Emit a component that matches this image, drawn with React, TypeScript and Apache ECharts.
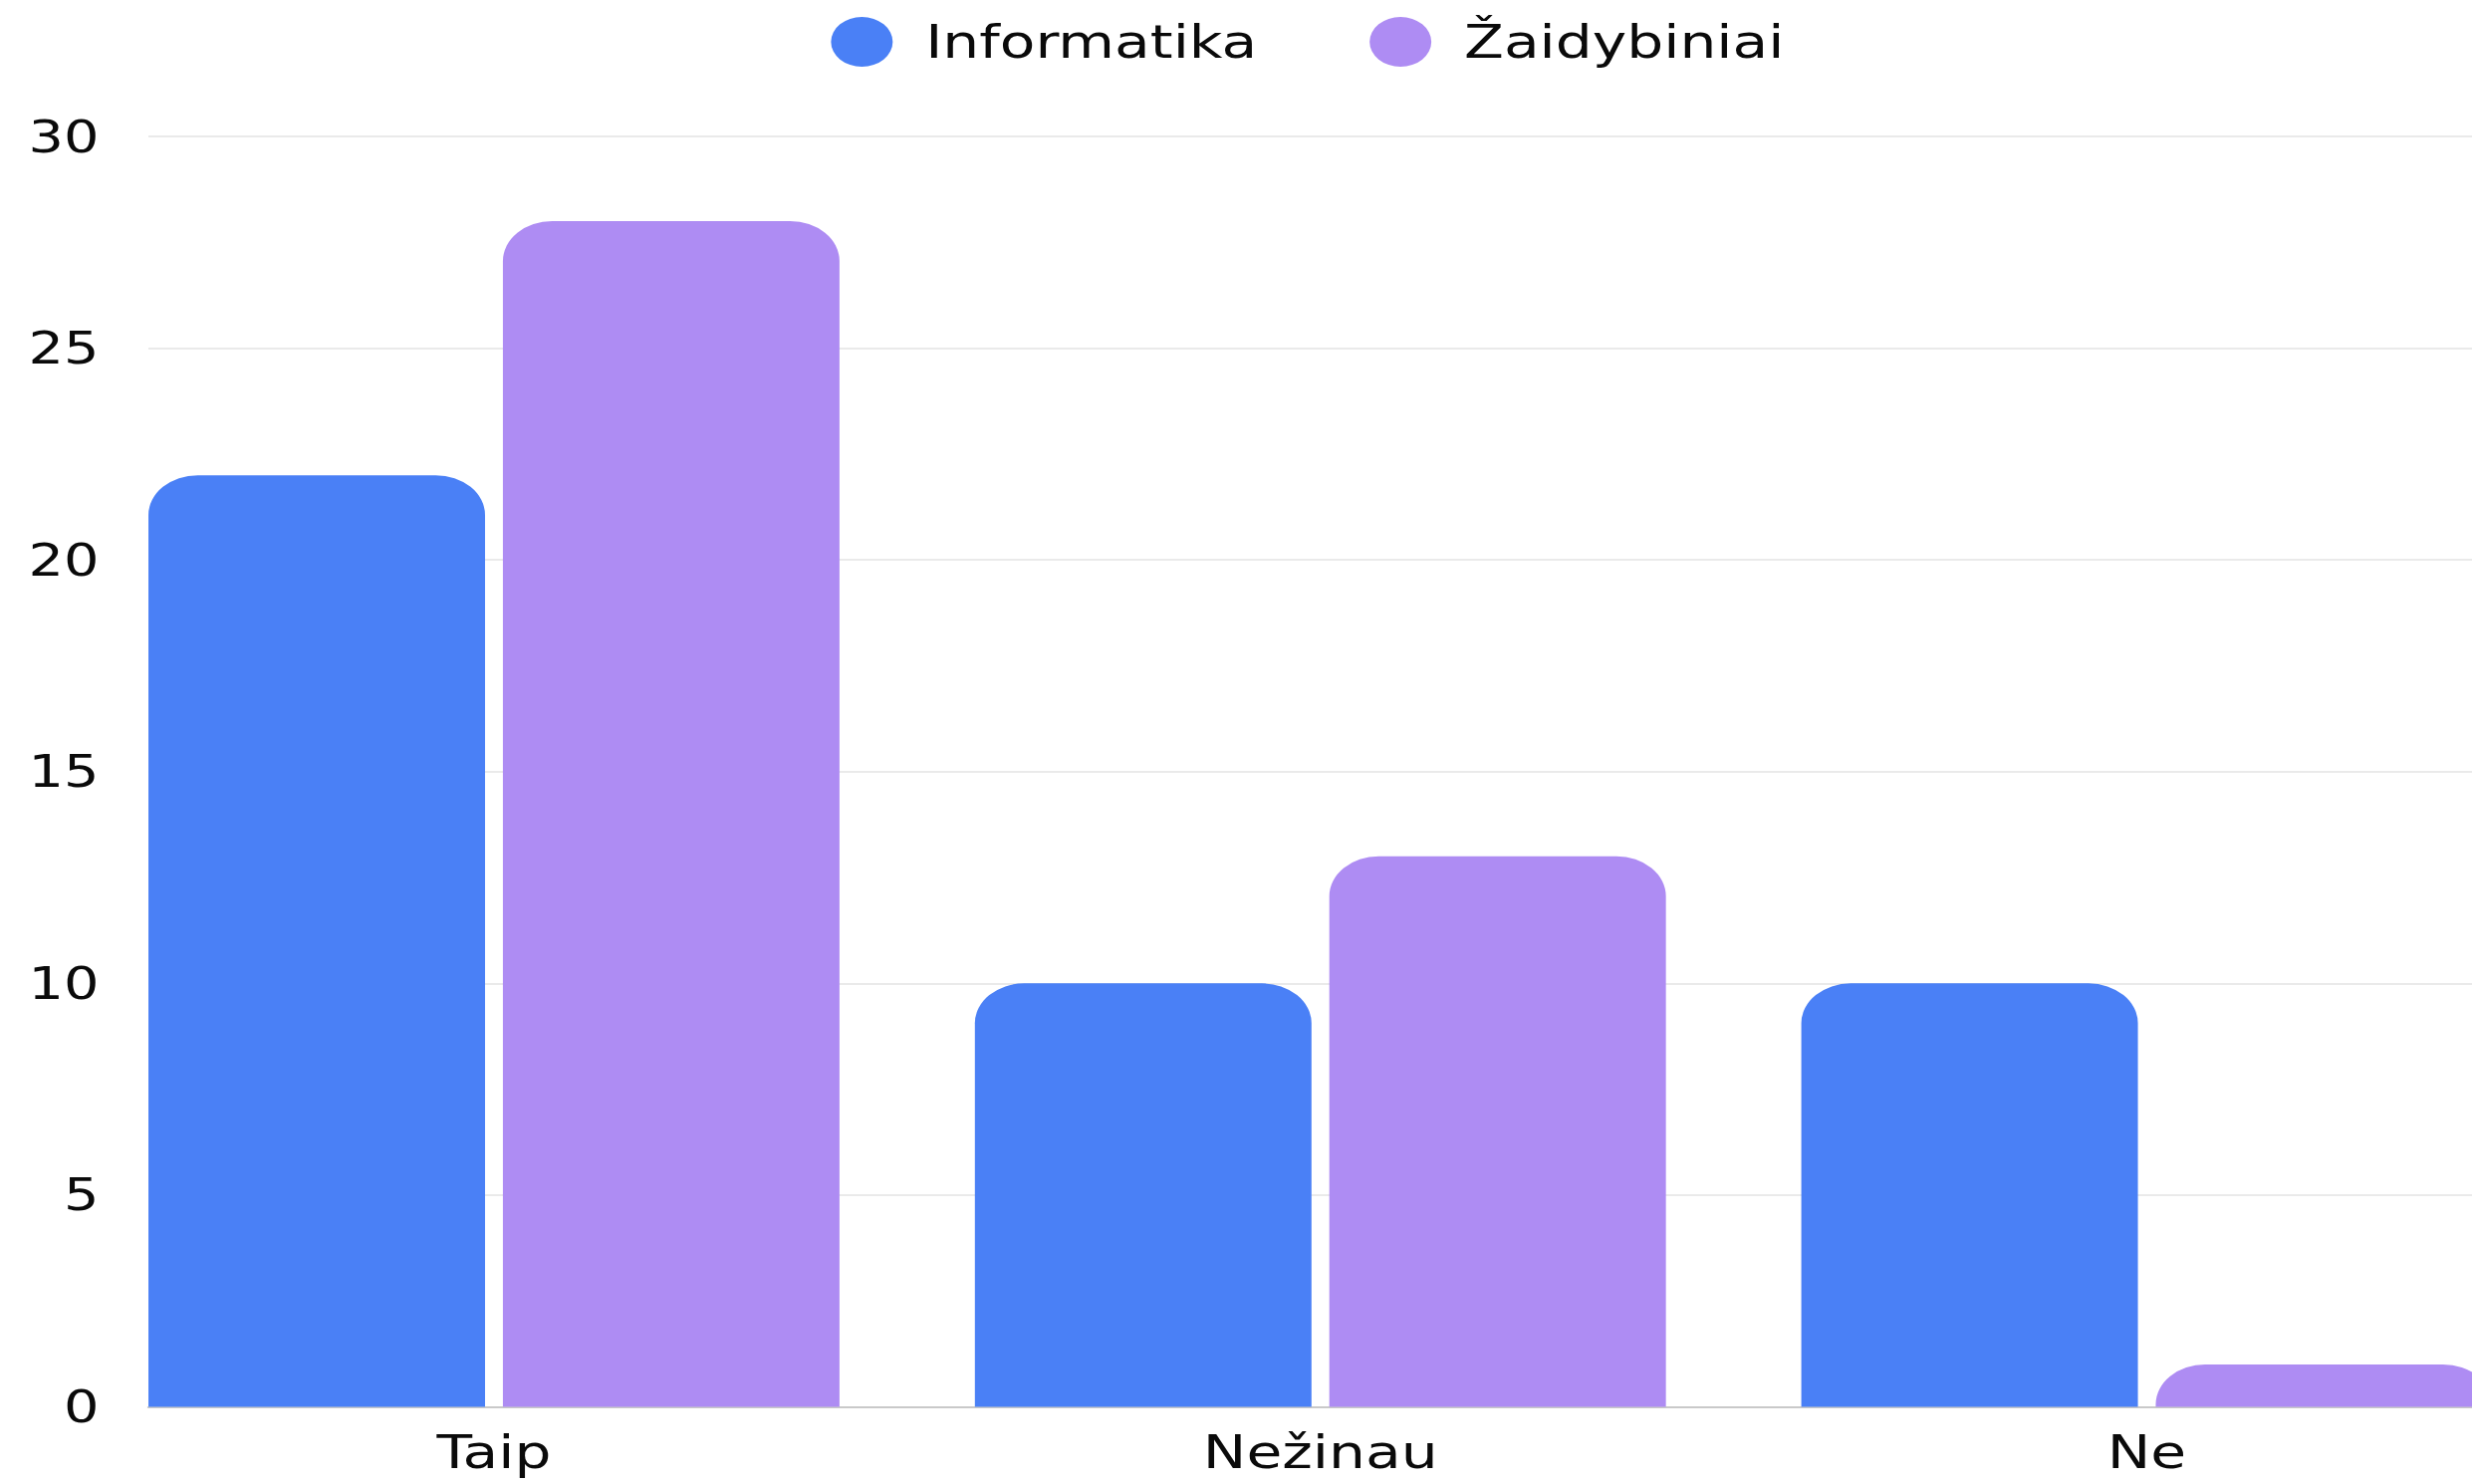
import React, { useEffect, useRef } from "react";
import * as echarts from "echarts";

const categories = ["Taip", "Nežinau", "Ne"];
const seriesNames = ["Informatika", "Žaidybiniai"];
const informatika = [22, 10, 10];
const zaidybiniai = [28, 13, 1];
const yMin = 0;
const yMax = 30;
const yInterval = 5;

const STRETCH = 1.24;
const VISIBLE_W = Math.round(2482 / STRETCH);
const EXTRA = 120;
const CHART_W = VISIBLE_W + EXTRA;
const CHART_H = 1490;
const FONT = "'DejaVu Sans', 'Noto Sans', sans-serif";
const ELLIPSE = "path://M0,1a1,1 0 1,0 2,0a1,1 0 1,0 -2,0Z";

export default function App() {
  const ref = useRef<HTMLDivElement>(null);
  useEffect(() => {
    if (!ref.current) return;
    const chart = echarts.init(ref.current, null, { renderer: "svg" });
    const top = 137;
    const bottom = 77.5;
    const plotLeft = 65.4;
    const plotRight = plotLeft + 3 * 669.3;
    chart.setOption({
      animation: false,
      backgroundColor: "#ffffff",
      legend: {
        left: 673,
        top: 17,
        padding: 0,
        itemWidth: 53,
        itemHeight: 50,
        itemGap: 91,
        icon: ELLIPSE,
        textStyle: { fontFamily: FONT, fontSize: 47, color: "#0a0a0a", padding: [0, 0, 0, 20] },
        data: seriesNames,
      },
      grid: [
        { left: 120.2, right: EXTRA, top, bottom, containLabel: false },
        { left: plotLeft, right: CHART_W - plotRight, top, bottom, containLabel: false },
      ],
      xAxis: [
        {
          gridIndex: 0,
          type: "value",
          min: 0,
          max: 1,
          axisLine: { show: true, lineStyle: { color: "#c9c9c9", width: 2 } },
          axisTick: { show: false },
          axisLabel: { show: false },
          splitLine: { show: false },
        },
        {
          gridIndex: 1,
          type: "category",
          data: categories,
          axisLine: { show: false },
          axisTick: { show: false },
          axisLabel: { fontFamily: FONT, fontSize: 47, color: "#0a0a0a", margin: 22 },
          splitLine: { show: false },
        },
      ],
      yAxis: [
        {
          gridIndex: 0,
          type: "value",
          min: yMin,
          max: yMax,
          interval: yInterval,
          axisLine: { show: false },
          axisTick: { show: false },
          axisLabel: { fontFamily: FONT, fontSize: 45, color: "#0a0a0a", margin: 40 },
          splitLine: { show: true, lineStyle: { color: "#e3e3e3", width: 1.5 } },
        },
        {
          gridIndex: 1,
          type: "value",
          min: yMin,
          max: yMax,
          interval: yInterval,
          show: false,
          splitLine: { show: false },
        },
      ],
      series: [
        {
          name: seriesNames[0],
          type: "bar",
          xAxisIndex: 1,
          yAxisIndex: 1,
          data: informatika,
          barWidth: 272.6,
          barGap: "5.3%",
          itemStyle: { color: "#4A80F6", borderRadius: [40, 40, 0, 0] },
        },
        {
          name: seriesNames[1],
          type: "bar",
          xAxisIndex: 1,
          yAxisIndex: 1,
          data: zaidybiniai,
          barWidth: 272.6,
          barGap: "5.3%",
          itemStyle: { color: "#AE8CF3", borderRadius: [40, 40, 0, 0] },
        },
      ],
    });
    return () => chart.dispose();
  }, []);
  return (
    <div
      style={{
        position: "fixed",
        left: 0,
        top: 0,
        width: 2482,
        height: CHART_H,
        overflow: "hidden",
        background: "#fff",
      }}
    >
      <div
        ref={ref}
        style={{
          width: CHART_W,
          height: CHART_H,
          transform: `scaleX(${2482 / VISIBLE_W})`,
          transformOrigin: "0 0",
        }}
      />
    </div>
  );
}
